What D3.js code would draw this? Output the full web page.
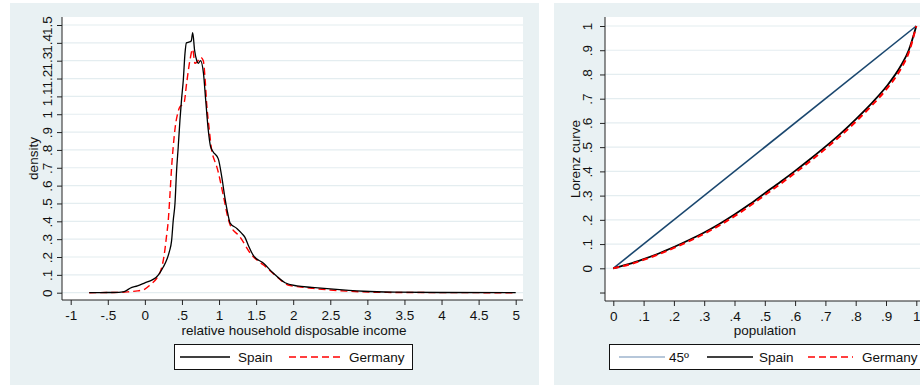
<!DOCTYPE html>
<html>
<head>
<meta charset="utf-8">
<script src="https://cdn.jsdelivr.net/npm/d3@7"></script>
<style>
  body { margin: 0; background: #fff; }
  text { font-family: "Liberation Sans", Arial, sans-serif; fill: #111; }
</style>
</head>
<body>
<div id="chart"></div>
<script>
// kernel density of relative household disposable income
var spainIncome = [-0.75,-0.5,-0.35,-0.3,-0.25,-0.2,-0.1,0,0.1,0.15,0.2,0.25,0.3,0.33,0.36,0.383,0.406,0.428,0.45,0.473,0.496,0.518,0.541,0.56,0.6,0.625,0.645,0.67,0.7,0.72,0.75,0.79,0.82,0.855,0.885,0.92,0.99,1.04,1.08,1.12,1.15,1.24,1.3,1.35,1.4,1.46,1.6,1.73,1.89,2.05,2.25,2.5,2.75,2.95,3.4,4,5];
var spainDensity = [0,0.001,0.002,0.004,0.012,0.025,0.038,0.055,0.072,0.085,0.11,0.145,0.19,0.23,0.29,0.407,0.5,0.687,0.818,0.967,1.09,1.19,1.341,1.40,1.405,1.41,1.457,1.36,1.30,1.285,1.30,1.23,1.08,0.91,0.82,0.79,0.75,0.64,0.53,0.44,0.39,0.36,0.335,0.31,0.26,0.21,0.165,0.11,0.056,0.038,0.03,0.021,0.013,0.008,0.003,0.001,0];
var germanyIncome = [-0.75,-0.5,-0.3,-0.2,-0.1,0,0.07,0.16,0.2,0.23,0.26,0.29,0.316,0.34,0.36,0.383,0.41,0.44,0.47,0.527,0.563,0.608,0.644,0.676,0.707,0.752,0.788,0.81,0.833,0.869,0.9,0.94,0.97,1.06,1.12,1.15,1.28,1.44,1.6,1.78,1.93,2.1,2.27,2.5,2.72,3.17,4,5];
var germanyDensity = [0,0.001,0.002,0.006,0.01,0.02,0.043,0.081,0.11,0.146,0.21,0.31,0.407,0.56,0.70,0.82,0.93,1.0,1.04,1.061,1.173,1.304,1.364,1.285,1.294,1.319,1.30,1.21,1.061,0.911,0.8,0.74,0.705,0.54,0.42,0.38,0.314,0.211,0.155,0.09,0.043,0.032,0.024,0.015,0.009,0.002,0.0005,0];

// Lorenz curves
var population = [0,0.05,0.1,0.15,0.2,0.25,0.3,0.35,0.4,0.45,0.5,0.55,0.6,0.65,0.7,0.75,0.8,0.85,0.9,0.95,0.975,1];
var spainLorenz = [0,0.017,0.038,0.061,0.088,0.117,0.148,0.183,0.222,0.264,0.31,0.355,0.402,0.451,0.502,0.556,0.615,0.678,0.748,0.838,0.9,1];
var germanyLorenz = [0,0.015,0.035,0.058,0.084,0.112,0.143,0.177,0.215,0.257,0.302,0.347,0.394,0.442,0.493,0.547,0.605,0.668,0.737,0.826,0.89,1];

var densityXTicks = [-1,-0.5,0,0.5,1,1.5,2,2.5,3,3.5,4,4.5,5];
var densityYTicks = d3.range(0, 16).map(function(i) { return i / 10; });
var lorenzXTicks = d3.range(0, 11).map(function(i) { return i / 10; });
var lorenzYTicks = d3.range(0, 11).map(function(i) { return i / 10; });

var bg = "#e9f1f3";
var grid = "#e4edf0";
var navy = "#1a476f";
var fs = "13.5px";

var svg = d3.select("#chart").append("svg")
  .attr("width", 920)
  .attr("height", 385);

// stata style labels: .5 instead of 0.5
var fmt = function(v) {
  var s = String(Math.round(v * 10) / 10);
  return s.replace(/^(-?)0\./, "$1.");
};

var drawPanel = function(o) {
  svg.append("rect")
    .attr("x", o.bx).attr("y", 3)
    .attr("width", o.bw).attr("height", 382)
    .attr("fill", bg);
  svg.append("rect")
    .attr("x", o.left).attr("y", o.top)
    .attr("width", o.right - o.left).attr("height", o.bottom - o.top)
    .attr("fill", "#fff");

  var g = svg.append("g");
  // gridlines
  g.selectAll("line.grid").data(o.yTicks)
    .enter().append("line")
    .attr("class", "grid")
    .attr("x1", o.left).attr("x2", o.right)
    .attr("y1", function(d) { return o.y(d); })
    .attr("y2", function(d) { return o.y(d); })
    .attr("stroke", grid).attr("stroke-width", 1.2);

  var yAxis = g.append("g")
    .attr("transform", "translate(" + o.left + ",0)")
    .call(d3.axisLeft(o.y).tickValues(o.yAllTicks).tickSize(5).tickFormat(function(d) {
      return o.yTicks.indexOf(d) >= 0 ? fmt(d) : "";
    }));
  yAxis.select(".domain").attr("d", "M0," + o.top + "V" + o.bottom).attr("stroke", "#222");
  yAxis.selectAll(".tick line").attr("stroke", "#222");
  yAxis.selectAll(".tick text")
    .attr("x", null).attr("dy", null)
    .attr("transform", "translate(" + (-o.yLabelOff) + ",0) rotate(-90)")
    .attr("text-anchor", "middle")
    .attr("dominant-baseline", "central")
    .style("font-size", fs)
    .style("font-family", "'Liberation Sans', Arial, sans-serif")
    .attr("fill", "#111");

  var xAxis = g.append("g")
    .attr("transform", "translate(0," + o.bottom + ")")
    .call(d3.axisBottom(o.x).tickValues(o.xTicks).tickSize(5).tickPadding(5).tickFormat(fmt));
  xAxis.select(".domain").attr("d", "M" + o.left + ",0H" + o.right).attr("stroke", "#222");
  xAxis.selectAll(".tick line").attr("stroke", "#222");
  xAxis.selectAll(".tick text")
    .style("font-size", fs)
    .style("font-family", "'Liberation Sans', Arial, sans-serif")
    .attr("fill", "#111");

  svg.append("text")
    .attr("x", o.titleX).attr("y", 335)
    .attr("text-anchor", "middle")
    .style("font-size", fs)
    .text(o.xTitle);
  svg.append("text")
    .attr("transform", "translate(" + o.yTitleX + "," + ((o.top + o.bottom) / 2) + ") rotate(-90)")
    .attr("text-anchor", "middle")
    .attr("dominant-baseline", "central")
    .style("font-size", fs)
    .text(o.yTitle);
};

// ---- left panel: density
var xL = d3.scaleLinear().domain([-1, 5]).range([70.7, 515.7]);
var yL = d3.scaleLinear().domain([0, 1.5]).range([292.7, 25]);

drawPanel({
  bx: 10, bw: 529,
  left: 62, right: 523, top: 17, bottom: 300,
  x: xL, y: yL, titleX: 294,
  xTicks: densityXTicks, yTicks: densityYTicks, yAllTicks: densityYTicks,
  yLabelOff: 14.5, yTitleX: 33,
  xTitle: "relative household disposable income", yTitle: "density"
});

var densLine = d3.line()
  .x(function(d) { return xL(d[0]); })
  .y(function(d) { return yL(d[1]); })
  .curve(d3.curveMonotoneX);

svg.append("path")
  .datum(d3.zip(germanyIncome, germanyDensity))
  .attr("d", densLine)
  .attr("fill", "none").attr("stroke", "#ff0000")
  .attr("stroke-width", 1.4).attr("stroke-dasharray", "7,4");
svg.append("path")
  .datum(d3.zip(spainIncome, spainDensity))
  .attr("d", densLine)
  .attr("fill", "none").attr("stroke", "#000")
  .attr("stroke-width", 1.3);

// ---- right panel: Lorenz
var xR = d3.scaleLinear().domain([0, 1]).range([613.3, 916.3]);
var yR = d3.scaleLinear().domain([0, 1]).range([268.3, 26]);

drawPanel({
  bx: 554, bw: 529,
  left: 605, right: 940, top: 17, bottom: 301,
  x: xR, y: yR, titleX: xR(0.5),
  xTicks: lorenzXTicks, yTicks: lorenzYTicks, yAllTicks: [-0.1].concat(lorenzYTicks),
  yLabelOff: 17.5, yTitleX: 575,
  xTitle: "population", yTitle: "Lorenz curve"
});

var lorenzLine = d3.line()
  .x(function(d) { return xR(d[0]); })
  .y(function(d) { return yR(d[1]); })
  .curve(d3.curveMonotoneX);

svg.append("path")
  .datum([[0, 0], [1, 1]])
  .attr("d", lorenzLine)
  .attr("fill", "none").attr("stroke", navy).attr("stroke-width", 1.6);
svg.append("path")
  .datum(d3.zip(population, spainLorenz))
  .attr("d", lorenzLine)
  .attr("fill", "none").attr("stroke", "#000").attr("stroke-width", 1.8);
svg.append("path")
  .datum(d3.zip(population, germanyLorenz))
  .attr("d", lorenzLine)
  .attr("fill", "none").attr("stroke", "#ff0000")
  .attr("stroke-width", 2).attr("stroke-dasharray", "6,4");

// ---- legends
var legend = function(x, y, w, items) {
  var g = svg.append("g").attr("transform", "translate(" + x + "," + y + ")");
  g.append("rect")
    .attr("width", w).attr("height", 25)
    .attr("fill", "#fff").attr("stroke", "#111").attr("stroke-width", 1);
  items.forEach(function(it) {
    g.append("line")
      .attr("x1", it.x1 - x).attr("x2", it.x2 - x)
      .attr("y1", 12.5).attr("y2", 12.5)
      .attr("stroke", it.color).attr("stroke-width", it.width)
      .attr("stroke-dasharray", it.dash || null);
    g.append("text")
      .attr("x", it.tx - x).attr("y", 12.5)
      .attr("dominant-baseline", "central")
      .style("font-size", fs)
      .text(it.label);
  });
};

legend(174.5, 344.5, 238, [
  { x1: 180, x2: 230, tx: 238, label: "Spain", color: "#000", width: 1.3 },
  { x1: 289, x2: 342, tx: 349, label: "Germany", color: "#ff0000", width: 1.3, dash: "7,4" }
]);
legend(609.5, 344.5, 400, [
  { x1: 619, x2: 665, tx: 669, label: "45º", color: "#6f8fb5", width: 1.2 },
  { x1: 707, x2: 753, tx: 759, label: "Spain", color: "#000", width: 1.3 },
  { x1: 808, x2: 853, tx: 862, label: "Germany", color: "#ff0000", width: 1.3, dash: "7,4" }
]);
</script>
</body>
</html>
